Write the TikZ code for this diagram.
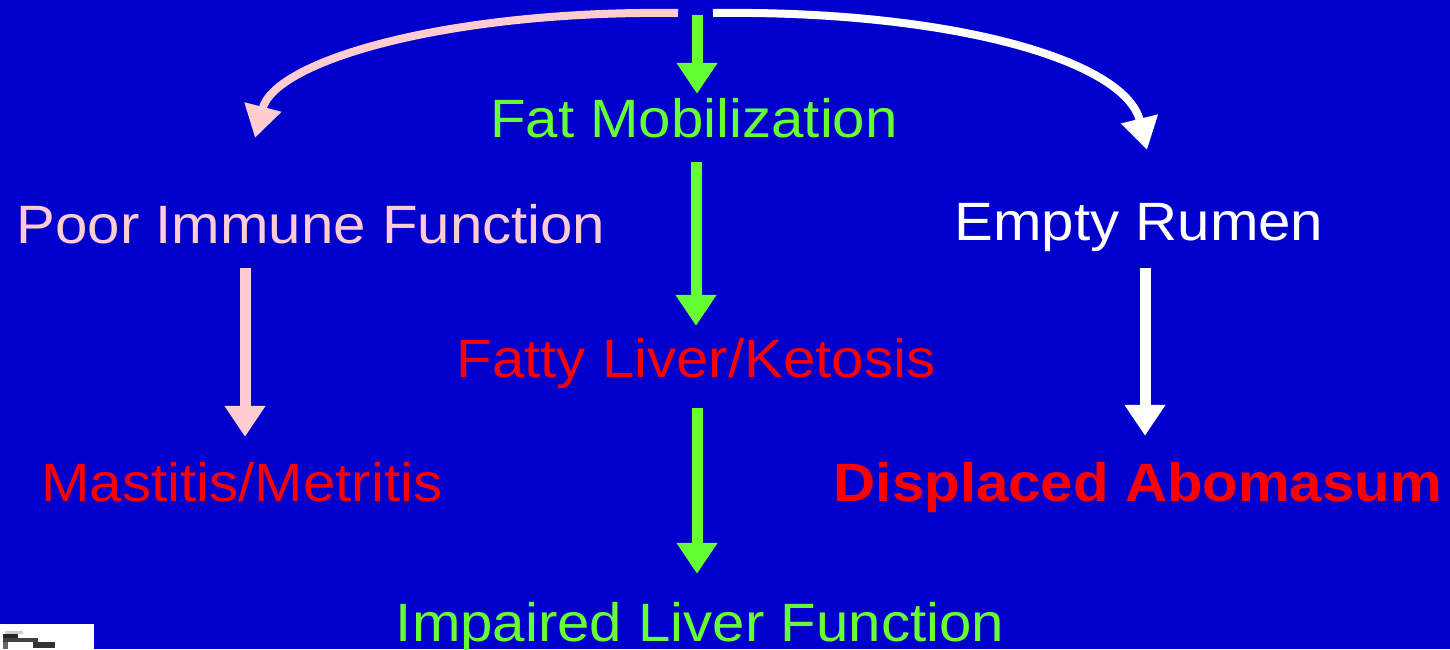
\documentclass[tikz,border=0pt]{standalone}
\usepackage{fontspec}
\setmainfont{Liberation Sans}[FakeStretch=1.078]
\usetikzlibrary{arrows.meta,calc}
\definecolor{bgblue}{RGB}{0,0,204}
\definecolor{lgreen}{RGB}{102,255,51}
\definecolor{lpink}{RGB}{255,204,210}
\definecolor{lred}{RGB}{255,0,0}
\tikzset{
  lbl/.style={inner sep=0pt, anchor=base, text height=39pt, text depth=0pt,
    font=\fontsize{54pt}{60pt}\selectfont},
  straightarrow/.style={line width=11pt, -{Triangle[width=39pt,length=31pt]}},
  curvearrow/.style={line width=8pt, -{Triangle[width=36pt,length=32pt]}},
}
\begin{document}
\begin{tikzpicture}[x=1pt,y=-1pt]
\useasboundingbox (0,0) rectangle (1450,649);
\fill[bgblue] (0,0) rectangle (1450,649);

% labels
\node[lbl, text=lgreen] (fat) at (694,137) {Fat Mobilization};
\node[lbl, text=lpink] (poor) at (311,243) {Poor Immune Function};
\node[lbl, text=white] (empty) at (1139,240) {Empty Rumen};
\node[lbl, text=lred] (fatty) at (696,377) {Fatty Liver/Ketosis};
\node[lbl, text=lred] (mast) at (242,501) {Mastitis/Metritis};
\node[lbl, text=lred, font=\fontsize{54pt}{60pt}\selectfont\bfseries] (disp) at (1138,501) {Displaced Abomasum};
\node[lbl, text=lgreen] (impaired) at (700,641) {Impaired Liver Function};

% column coordinates and free ends
\coordinate (top) at (697,15);
\coordinate (gcol) at (696,0);
\coordinate (pcol) at (245,0);
\coordinate (wcol) at (1145,0);
\coordinate (lstart) at (678,13);
\coordinate (lend) at (255,138);
\coordinate (rstart) at (713,13);
\coordinate (rend) at (1147,150);

% curved arrows
\draw[curvearrow, lpink] (lstart) .. controls (450,10) and (275,60) .. (lend);
\draw[curvearrow, white] (rstart) .. controls (950,10) and (1125,60) .. (rend);

% straight arrows
\draw[straightarrow, lgreen, shorten >=4pt] (top) -- (top |- fat.north);
\draw[straightarrow, lgreen, shorten <=25pt, shorten >=12pt] (fat.south -| gcol) -- (fatty.north -| gcol);
\draw[straightarrow, lgreen, shorten <=31pt, shorten >=28pt] (fatty.south -| top) -- (impaired.north -| top);
\draw[straightarrow, lpink, shorten <=25pt, shorten >=25pt] (poor.south -| pcol) -- (mast.north -| pcol);
\draw[straightarrow, white, shorten <=28pt, shorten >=26pt] (empty.south -| wcol) -- (disp.north -| wcol);

% small white box at bottom left
\fill[white] (0,624) rectangle (94,649);
\fill[gray!40] (5,631) rectangle (23,634);
\fill[black!85] (3,634) rectangle (18,638);
\fill[black!75] (3,638) rectangle (38,642);
\fill[black!60] (3,642) rectangle (8,649);
\fill[black!80] (33,642) rectangle (55,648);
\end{tikzpicture}
\end{document}
